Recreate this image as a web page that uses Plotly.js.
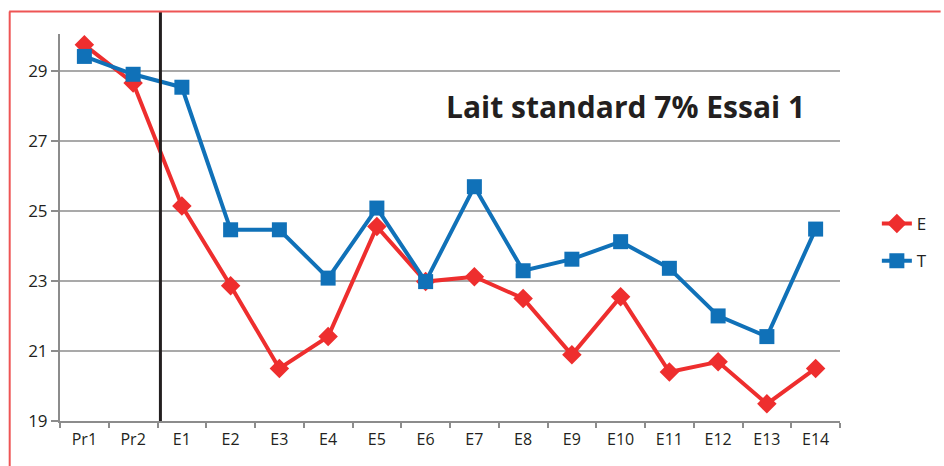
<!DOCTYPE html>
<html>
<head>
<meta charset="utf-8">
<script src="https://cdn.plot.ly/plotly-3.0.1.min.js"></script>
<style>html,body{margin:0;padding:0;background:#fff;}#chart{width:944px;height:466px;}</style>
</head>
<body>
<div id="chart"></div>
<script>
const categories = ["Pr1","Pr2","E1","E2","E3","E4","E5","E6","E7","E8","E9","E10","E11","E12","E13","E14"];
const seriesE = [29.74,28.65,25.14,22.86,20.5,21.41,24.55,22.98,23.12,22.5,20.89,22.55,20.4,20.69,19.49,20.5];
const seriesT = [29.41,28.9,28.53,24.46,24.46,23.08,25.08,22.98,25.69,23.29,23.62,24.12,23.36,22.0,21.41,24.48];
const yTicks = [19,21,23,25,27,29];
const chartTitle = "Lait standard 7% Essai 1";
const dividerCat = 1.56;

const W = 944, H = 466;
const mL = 60, mR = 101, mT = 34, mB = 45;
const plotW = W - mL - mR, plotH = H - mT - mB;
const pxX = px => (px - mL) / plotW;
const pxY = py => (H - mB - py) / plotH;
const font = "'Open Sans', 'Noto Sans', sans-serif";

const traces = [
  {x: categories, y: seriesE, name: "E", legendgroup: "E", type: "scatter", mode: "lines+markers",
   line: {color: "#ee2e2e", width: 4}, marker: {symbol: "diamond", size: 15, color: "#ee2e2e"}},
  {x: categories, y: seriesT, name: "T", legendgroup: "T", type: "scatter", mode: "lines+markers",
   line: {color: "#1071b8", width: 4}, marker: {symbol: "square", size: 15, color: "#1071b8"}}
];

const layout = {
  width: W, height: H,
  margin: {l: mL, r: mR, t: mT, b: mB, pad: 0},
  paper_bgcolor: "#fff", plot_bgcolor: "#fff",
  font: {family: font, color: "#231f20", size: 16},
  showlegend: true,
  legend: {x: pxX(880), y: pxY(206), xanchor: "left", yanchor: "top",
           font: {size: 17, family: font, color: "#231f20"}, traceorder: "grouped", tracegroupgap: 12,
           itemwidth: 30, bgcolor: "rgba(0,0,0,0)"},
  xaxis: {type: "category", range: [-0.5, categories.length - 0.5], tickson: "boundaries",
          ticks: "outside", ticklen: 5, tickwidth: 2, tickcolor: "#8c8c8c", ticklabelstandoff: 3,
          showline: true, linecolor: "#8c8c8c", linewidth: 2, showgrid: false, zeroline: false,
          tickfont: {size: 16, family: font, color: "#231f20"}, fixedrange: true},
  yaxis: {range: [19, 30.05], tickvals: yTicks, ticktext: yTicks.map(String),
          ticks: "outside", ticklen: 7, tickwidth: 2, tickcolor: "#8c8c8c",
          showline: true, linecolor: "#8c8c8c", linewidth: 2,
          showgrid: true, gridcolor: "#a9a9a9", gridwidth: 2, zeroline: false,
          tickfont: {size: 17, family: font, color: "#231f20"}, fixedrange: true},
  annotations: [{text: "<b>" + chartTitle + "</b>", xref: "paper", yref: "paper",
                 x: pxX(628), y: pxY(107), xanchor: "center", yanchor: "middle",
                 showarrow: false, font: {size: 30, family: font, color: "#231f20"}}],
  shapes: [
    {type: "line", xref: "paper", yref: "paper",
     x0: (dividerCat + 0.5) / categories.length, x1: (dividerCat + 0.5) / categories.length,
     y0: 0, y1: pxY(12), line: {color: "#231f20", width: 3}},
    {type: "line", xref: "paper", yref: "paper", x0: pxX(9), x1: pxX(944), y0: pxY(11.5), y1: pxY(11.5),
     line: {color: "#ee5555", width: 2}},
    {type: "line", xref: "paper", yref: "paper", x0: pxX(9.5), x1: pxX(9.5), y0: pxY(11.5), y1: pxY(470),
     line: {color: "#ee5555", width: 2}}
  ]
};

Plotly.newPlot("chart", traces, layout, {displayModeBar: false, staticPlot: true});
</script>
</body>
</html>
